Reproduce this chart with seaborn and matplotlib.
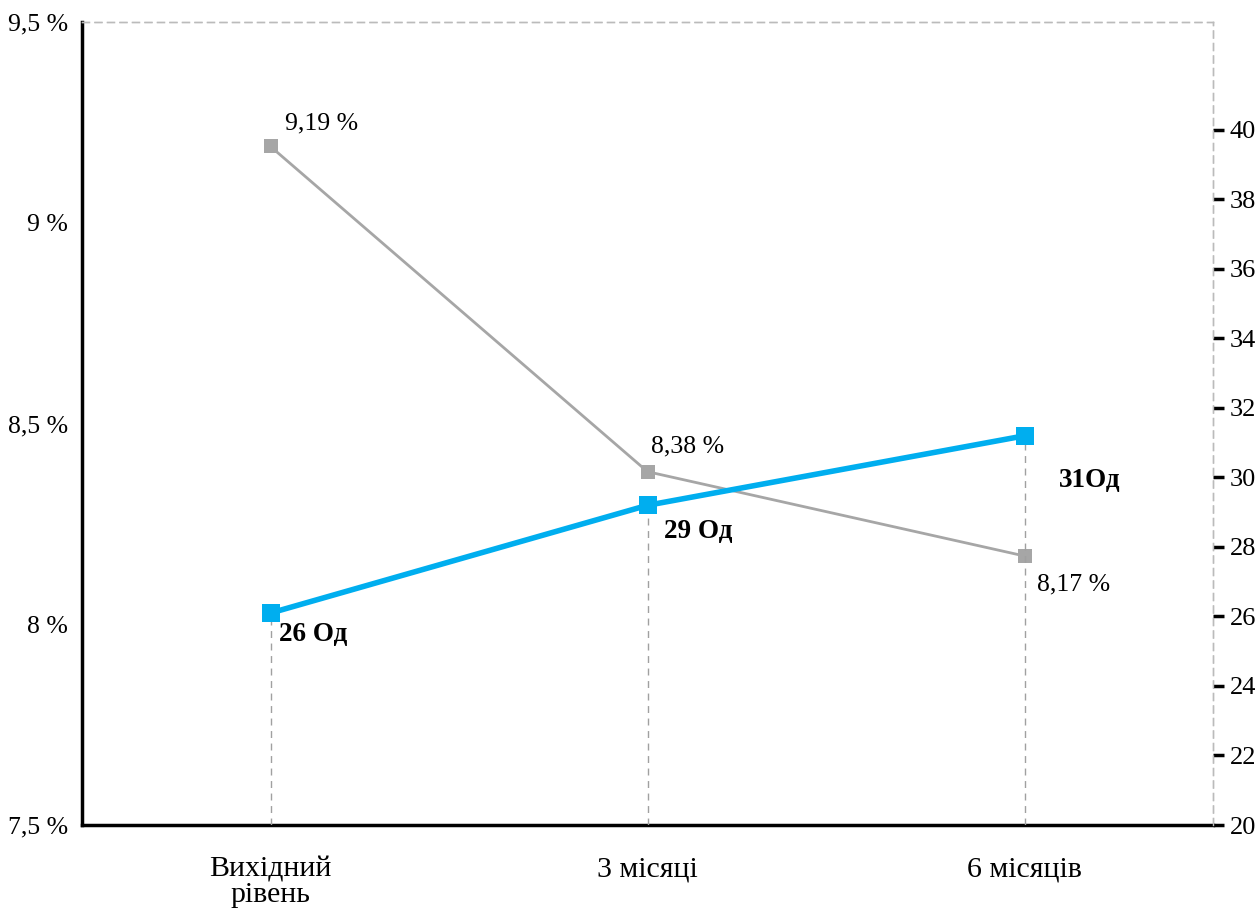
import numpy as np
import matplotlib
matplotlib.use("Agg")
import matplotlib.pyplot as plt
import seaborn as sns

# ==================== DATA ====================

categories = ["Вихідний\nрівень", "3 місяці", "6 місяців"]
pct_values = [9.19, 8.38, 8.17]          # left axis, %
pct_labels = ["9,19 %", "8,38 %", "8,17 %"]
od_values = [26.1, 29.2, 31.2]           # right axis
od_labels = ["26 Од", "29 Од", "31Од"]

left_ticks = [7.5, 8.0, 8.5, 9.0, 9.5]
left_tick_labels = ["7,5 %", "8 %", "8,5 %", "9 %", "9,5 %"]
right_ticks = list(range(20, 41, 2))

GRAY = "#A6A6A6"
BLUE = "#00AEEF"

# ==================== STYLE ====================

sns.set_style("white")
plt.rcParams["font.family"] = ["Liberation Serif", "DejaVu Serif"]
plt.rcParams["font.size"] = 18
plt.rcParams["text.color"] = "black"
plt.rcParams["xtick.color"] = "black"
plt.rcParams["ytick.color"] = "black"
plt.rcParams["xtick.labelcolor"] = "black"
plt.rcParams["ytick.labelcolor"] = "black"

x = np.arange(len(categories))

fig = plt.figure(figsize=(12.58, 9.11), dpi=100)
ax = fig.add_axes([82 / 1258, 1 - 825 / 911, (1213 - 82) / 1258, (825 - 22) / 911])
ax2 = ax.twinx()

# ==================== LINES ====================

sns.lineplot(x=x, y=pct_values, ax=ax, color=GRAY, linewidth=2,
             marker="s", markersize=9.5, markeredgewidth=0, zorder=3)
sns.lineplot(x=x, y=od_values, ax=ax2, color=BLUE, linewidth=4,
             marker="s", markersize=13.5, markeredgewidth=0, zorder=4)

# drop lines from blue series
ax2.vlines(x, 20, od_values, colors="#A0A0A0", linestyles=(0, (5, 4)),
           linewidth=1, zorder=1)

# ==================== LABELS ====================

pct_offsets = [(51, 23), (40, 25), (49, -28)]
for xi, v, lab, off in zip(x, pct_values, pct_labels, pct_offsets):
    ax.annotate(lab, (xi, v), xytext=off, textcoords="offset pixels",
                ha="center", va="center", fontsize=18.5)

od_offsets = [(43, -21), (51, -26), (65, -45)]
for xi, v, lab, off in zip(x, od_values, od_labels, od_offsets):
    ax2.annotate(lab, (xi, v), xytext=off, textcoords="offset pixels",
                 ha="center", va="center", fontsize=19.5, fontweight="bold")

# ==================== AXES ====================

ax.set_xlim(-0.5, 2.5)
ax.set_ylim(7.5, 9.5)
ax2.set_ylim(20, 20 + (825 - 22) / 34.75)

ax.set_xticks([-0.5, 0.5, 1.5, 2.5])
ax.set_xticklabels([])
ax.set_xticks(x, minor=True)
ax.set_xticklabels(categories, minor=True, linespacing=0.95, fontsize=21.5)
ax.tick_params(axis="x", which="major", direction="out", length=9, width=2.5, color="black")
ax.tick_params(axis="x", which="minor", length=0, pad=23)

ax.set_yticks(left_ticks)
ax.set_yticklabels(left_tick_labels)
ax.tick_params(axis="y", which="major", length=0, pad=10, labelsize=18.5)
ax.set_yticks([7.5], minor=True)
ax.tick_params(axis="y", which="minor", direction="out", length=6, width=2.5)

ax2.set_yticks(right_ticks)
ax2.tick_params(axis="y", direction="out", length=8, width=2.5, pad=4, labelsize=19)

for a in (ax, ax2):
    a.set_xlabel("")
    a.set_ylabel("")
    a.grid(False)

ax.spines["left"].set_linewidth(2.5)
ax.spines["left"].set_color("black")
ax.spines["bottom"].set_linewidth(2.5)
ax.spines["bottom"].set_color("black")
for a in (ax, ax2):
    a.spines["top"].set_color("#BBBBBB")
    a.spines["top"].set_linestyle((0, (5, 4)))
    a.spines["top"].set_linewidth(1)
    a.spines["right"].set_color("#BBBBBB")
    a.spines["right"].set_linestyle((0, (5, 4)))
    a.spines["right"].set_linewidth(1)
ax2.spines["left"].set_visible(False)
ax2.spines["bottom"].set_visible(False)

fig.savefig("out.png", dpi=100)
